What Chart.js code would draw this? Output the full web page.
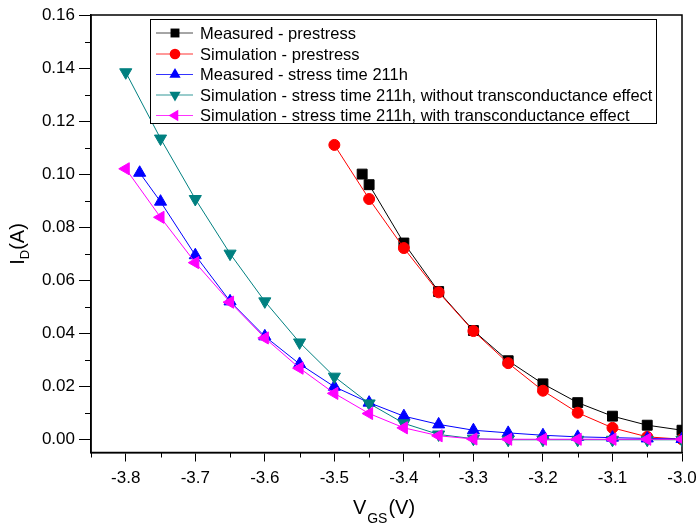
<!DOCTYPE html>
<html><head><meta charset="utf-8">
<script src="https://cdn.jsdelivr.net/npm/chart.js@4.4.0/dist/chart.umd.min.js"></script>
<style>html,body{margin:0;padding:0;background:#fff;}#wrap{width:698px;height:525px;}</style>
</head><body><div id="wrap"><canvas id="c" width="698" height="525"></canvas></div>
<script>
// ---- data ----
const vgsMeasuredPre = [-3.46, -3.45, -3.40, -3.35, -3.30, -3.25, -3.20, -3.15, -3.10, -3.05, -3.00];
const idMeasuredPre  = [0.1000, 0.0960, 0.0740, 0.0557, 0.0410, 0.0296, 0.0209, 0.0138, 0.0087, 0.0053, 0.0034];
const vgsSimPre = [-3.50, -3.45, -3.40, -3.35, -3.30, -3.25, -3.20, -3.15, -3.10, -3.05, -3.00];
const idSimPre  = [0.1110, 0.0906, 0.0721, 0.0554, 0.0408, 0.0287, 0.0183, 0.0100, 0.0043, 0.0009, 0.0000];
const vgsMeasuredStress = [-3.78, -3.75, -3.70, -3.65, -3.60, -3.55, -3.50, -3.45, -3.40, -3.35, -3.30, -3.25, -3.20, -3.15, -3.10, -3.05, -3.00];
const idMeasuredStress  = [0.1005, 0.0896, 0.0694, 0.0520, 0.0388, 0.0284, 0.0198, 0.0138, 0.0087, 0.0056, 0.0034, 0.0024, 0.0015, 0.0009, 0.0006, 0.0003, 0.0001];
const vgsSimStress = [-3.80, -3.75, -3.70, -3.65, -3.60, -3.55, -3.50, -3.45, -3.40, -3.35, -3.30, -3.25, -3.20, -3.15, -3.10, -3.05, -3.00];
const idSimNoGm = [0.1384, 0.1134, 0.0906, 0.0700, 0.0520, 0.0365, 0.0236, 0.0135, 0.0060, 0.0018, 0.0002, -0.0002, -0.0002, -0.0002, -0.0002, -0.0002, -0.0002];
const idSimGm   = [0.1020, 0.0837, 0.0666, 0.0517, 0.0382, 0.0268, 0.0173, 0.0097, 0.0043, 0.0013, 0.0001, 0.0000, 0.0000, 0.0000, 0.0000, 0.0000, 0.0000];
const seriesNames = [
  'Measured - prestress',
  'Simulation - prestress',
  'Measured - stress time 211h',
  'Simulation - stress time 211h, without transconductance effect',
  'Simulation - stress time 211h, with transconductance effect'
];
const xTickValues = [-3.8, -3.7, -3.6, -3.5, -3.4, -3.3, -3.2, -3.1, -3.0];
const xMinorValues = [-3.85, -3.75, -3.65, -3.55, -3.45, -3.35, -3.25, -3.15, -3.05];
const yTickValues = [0.00, 0.02, 0.04, 0.06, 0.08, 0.10, 0.12, 0.14, 0.16];
const yMinorValues = [0.01, 0.03, 0.05, 0.07, 0.09, 0.11, 0.13, 0.15];

const FONT = '"Liberation Sans", Arial, sans-serif';
const pts = (xs, ys) => xs.map((x, i) => ({x: x, y: ys[i]}));

const styles = [
  {color: '#000000', pointStyle: 'rect', radius: 7, rotation: 0},
  {color: '#FF0000', pointStyle: 'circle', radius: 5.5, rotation: 0},
  {color: '#0000FF', pointStyle: 'triangle', radius: 7, rotation: 0},
  {color: '#008080', pointStyle: 'triangle', radius: 7, rotation: 180},
  {color: '#FF00FF', pointStyle: 'triangle', radius: 7, rotation: 270}
];
const dataArr = [
  pts(vgsMeasuredPre, idMeasuredPre),
  pts(vgsSimPre, idSimPre),
  pts(vgsMeasuredStress, idMeasuredStress),
  pts(vgsSimStress, idSimNoGm),
  pts(vgsSimStress, idSimGm)
];
const datasets = dataArr.map((d, i) => ({
  label: seriesNames[i],
  data: d,
  showLine: true,
  borderColor: styles[i].color,
  backgroundColor: styles[i].color,
  borderWidth: 1,
  pointStyle: styles[i].pointStyle,
  pointRadius: styles[i].radius,
  pointRotation: styles[i].rotation,
  pointBorderWidth: 1,
  pointBorderColor: styles[i].color,
  pointBackgroundColor: styles[i].color,
  tension: 0,
  order: 5 - i
}));

function drawMarker(ctx, style, radius, rotation, x, y) {
  ctx.beginPath();
  if (style === 'circle') {
    ctx.arc(x, y, radius, 0, Math.PI * 2);
  } else if (style === 'rect') {
    const s = radius / Math.SQRT2;
    ctx.rect(x - s, y - s, 2 * s, 2 * s);
  } else {
    let rad = rotation * Math.PI / 180;
    ctx.moveTo(x + Math.sin(rad) * radius, y - Math.cos(rad) * radius);
    rad += 2 * Math.PI / 3;
    ctx.lineTo(x + Math.sin(rad) * radius, y - Math.cos(rad) * radius);
    rad += 2 * Math.PI / 3;
    ctx.lineTo(x + Math.sin(rad) * radius, y - Math.cos(rad) * radius);
    ctx.closePath();
  }
  ctx.fill();
}

const decorPlugin = {
  id: 'decor',
  beforeDatasetsDraw(chart) {
    const ctx = chart.ctx, a = chart.chartArea;
    const xs = chart.scales.x, ys = chart.scales.y;
    ctx.save();
    ctx.strokeStyle = '#000';
    ctx.lineWidth = 1;
    ctx.beginPath();
    xMinorValues.forEach(v => {
      const px = Math.round(xs.getPixelForValue(v)) + 0.5;
      ctx.moveTo(px, a.bottom); ctx.lineTo(px, a.bottom + 5);
    });
    yMinorValues.forEach(v => {
      const py = Math.round(ys.getPixelForValue(v)) + 0.5;
      ctx.moveTo(a.left, py); ctx.lineTo(a.left - 6, py);
    });
    ctx.stroke();
    ctx.lineWidth = 1.5;
    ctx.strokeRect(a.left, a.top, a.right - a.left, a.bottom - a.top);
    ctx.restore();
  },
  afterDraw(chart) {
    const ctx = chart.ctx;
    ctx.save();
    ctx.fillStyle = '#000';
    // x title V_GS(V)
    ctx.textBaseline = 'alphabetic';
    ctx.textAlign = 'left';
    ctx.font = '20px ' + FONT;
    const wV = ctx.measureText('V').width;
    ctx.font = '14px ' + FONT;
    const wGS = ctx.measureText('GS').width;
    ctx.font = '20px ' + FONT;
    const wP = ctx.measureText('(V)').width;
    let x0 = 384 - (wV + wGS + wP + 2) / 2;
    const by = 514;
    ctx.fillText('V', x0, by);
    ctx.font = '14px ' + FONT;
    ctx.fillText('GS', x0 + wV + 1, by + 9);
    ctx.font = '20px ' + FONT;
    ctx.fillText('(V)', x0 + wV + wGS + 2, by);
    // y title I_D(A)
    ctx.translate(24, 244);
    ctx.rotate(-Math.PI / 2);
    ctx.font = '20px ' + FONT;
    const wI = ctx.measureText('I').width;
    ctx.font = '13px ' + FONT;
    const wD = ctx.measureText('D').width;
    ctx.font = '20px ' + FONT;
    const wA = ctx.measureText('(A)').width;
    x0 = -(wI + wD + wA) / 2;
    ctx.fillText('I', x0, 0);
    ctx.font = '13px ' + FONT;
    ctx.fillText('D', x0 + wI, 5);
    ctx.font = '20px ' + FONT;
    ctx.fillText('(A)', x0 + wI + wD, 0);
    ctx.restore();

    // legend
    ctx.save();
    ctx.strokeStyle = '#000';
    ctx.lineWidth = 1;
    ctx.fillStyle = '#fff';
    ctx.fillRect(150.5, 19.5, 506, 104);
    ctx.strokeRect(150.5, 19.5, 506, 104);
    const rowsY = [33, 54, 74.5, 95, 115.5];
    const legR = [6.3, 5.3, 6.5, 6.5, 6.5];
    seriesNames.forEach((name, i) => {
      const y = rowsY[i];
      ctx.strokeStyle = styles[i].color;
      ctx.globalAlpha = i === 0 ? 0.7 : 0.8;
      ctx.beginPath();
      ctx.moveTo(156, y); ctx.lineTo(193, y);
      ctx.stroke();
      ctx.globalAlpha = 1;
      ctx.fillStyle = styles[i].color;
      drawMarker(ctx, styles[i].pointStyle, legR[i], styles[i].rotation, 175, y);
      ctx.fillStyle = '#000';
      ctx.font = '16.5px ' + FONT;
      ctx.textAlign = 'left';
      ctx.textBaseline = 'middle';
      ctx.fillText(name, 200, y + 1);
    });
    ctx.restore();
  }
};

new Chart(document.getElementById('c'), {
  type: 'scatter',
  data: {datasets: datasets},
  options: {
    responsive: false,
    animation: false,
    devicePixelRatio: 1,
    layout: {padding: {top: 15, right: 16, left: 0, bottom: 0}},
    plugins: {legend: {display: false}, tooltip: {enabled: false}},
    scales: {
      x: {
        type: 'linear', min: -3.85, max: -3.0,
        afterBuildTicks: s => { s.ticks = xTickValues.map(v => ({value: v})); },
        afterFit: s => { s.height = 72.5; s.paddingRight = 0; s.paddingLeft = 0; },
        ticks: {
          callback: v => v.toFixed(1),
          color: '#000', font: {size: 17, family: FONT}, padding: 7, maxRotation: 0, autoSkip: false
        },
        grid: {drawOnChartArea: false, drawTicks: true, tickLength: 9, tickColor: '#000', tickWidth: 1},
        border: {display: true, color: '#000', width: 1.5}
      },
      y: {
        type: 'linear', min: -0.005, max: 0.16,
        afterBuildTicks: s => { s.ticks = yTickValues.map(v => ({value: v})); },
        afterFit: s => { s.width = 91; s.paddingTop = 0; s.paddingBottom = 0; },
        ticks: {
          callback: v => v.toFixed(2),
          color: '#000', font: {size: 17, family: FONT}, padding: 4, autoSkip: false
        },
        grid: {drawOnChartArea: false, drawTicks: true, tickLength: 12, tickColor: '#000', tickWidth: 1},
        border: {display: true, color: '#000', width: 1.5}
      }
    }
  },
  plugins: [decorPlugin]
});
</script>
</body></html>
